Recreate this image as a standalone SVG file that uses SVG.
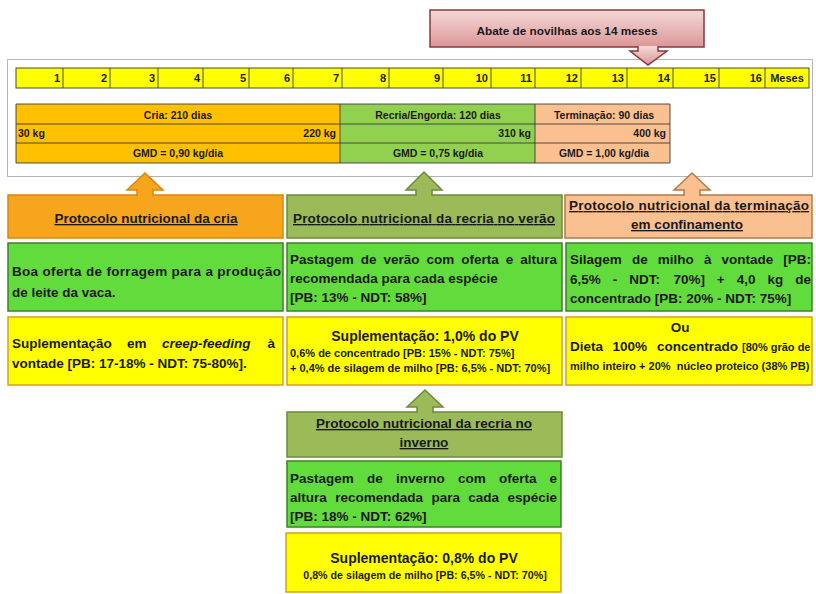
<svg xmlns="http://www.w3.org/2000/svg" width="816" height="594" viewBox="0 0 816 594">
<defs>
<linearGradient id="gPink" x1="0" y1="0" x2="0" y2="1">
<stop offset="0" stop-color="#F5D9D8"/>
<stop offset="1" stop-color="#DA9796"/>
</linearGradient>
<style>
text{font-family:"Liberation Sans",Arial,sans-serif;font-weight:bold;fill:#1a1a1a}
.tl{font-size:11px;text-anchor:end}
.tb{font-size:10.5px}
.c{text-anchor:middle}
.e{text-anchor:end}
.b{font-size:13.5px}
.h{font-size:14px}
.s{font-size:11px}
.u{text-decoration:underline}
.i{font-style:italic}
.grid{stroke:#3d3d3d;stroke-width:0.9;fill:none}
.green{fill:#62DC3C;stroke:#3F7F2A;stroke-width:1.5}
.yellow{fill:#FFFF00;stroke:#D2A21A;stroke-width:1.5}
.pCria{fill:#F8A51E;stroke:#D98708;stroke-width:1.5}
.pRecria{fill:#9BBB59;stroke:#6E8A3A;stroke-width:1.5}
.pTerm{fill:#FAC090;stroke:#B47A48;stroke-width:1.5}
.pAbate{fill:url(#gPink);stroke:#8C3836;stroke-width:1.5}
</style>
</defs>
<rect width="816" height="594" fill="#ffffff"/>

<!-- frame around the timeline and the phase table -->
<rect x="7.5" y="59.5" width="805" height="117" fill="none" stroke="#b4b4b4" stroke-width="1"/>

<!-- month timeline -->
<g id="timeline">
<rect x="16" y="68" width="793" height="20" fill="#FFFF00" stroke="#4a4a30" stroke-width="1"/>
<path class="grid" d="M63,68V88M110,68V88M158,68V88M203,68V88M249,68V88M293,68V88M342,68V88M389,68V88M443,68V88M491,68V88M535,68V88M581,68V88M627,68V88M673,68V88M719,68V88M765,68V88"/>
<text class="tl" x="60" y="82">1</text>
<text class="tl" x="107" y="82">2</text>
<text class="tl" x="155" y="82">3</text>
<text class="tl" x="200" y="82">4</text>
<text class="tl" x="246" y="82">5</text>
<text class="tl" x="290" y="82">6</text>
<text class="tl" x="339" y="82">7</text>
<text class="tl" x="386" y="82">8</text>
<text class="tl" x="440" y="82">9</text>
<text class="tl" x="488" y="82">10</text>
<text class="tl" x="532" y="82">11</text>
<text class="tl" x="578" y="82">12</text>
<text class="tl" x="624" y="82">13</text>
<text class="tl" x="670" y="82">14</text>
<text class="tl" x="716" y="82">15</text>
<text class="tl" x="762" y="82">16</text>
<text class="tl c" x="787" y="82">Meses</text>
</g>

<!-- phase table -->
<g id="phase-cria">
<rect x="16" y="104" width="324" height="59" fill="#FFC000"/>
<text class="tb c" x="178" y="119">Cria: 210 dias</text>
<text class="tb" x="18" y="137">30 kg</text>
<text class="tb e" x="336" y="137">220 kg</text>
<text class="tb c" x="178" y="157">GMD = 0,90 kg/dia</text>
</g>
<g id="phase-recria">
<rect x="340" y="104" width="195" height="59" fill="#92D050"/>
<text class="tb c" x="438" y="119">Recria/Engorda: 120 dias</text>
<text class="tb e" x="531" y="137">310 kg</text>
<text class="tb c" x="438" y="157">GMD = 0,75 kg/dia</text>
</g>
<g id="phase-terminacao">
<rect x="535" y="104" width="135" height="59" fill="#FAC090"/>
<text class="tb c" x="604" y="119">Terminação: 90 dias</text>
<text class="tb e" x="666" y="137">400 kg</text>
<text class="tb c" x="604" y="157">GMD = 1,00 kg/dia</text>
</g>
<path class="grid" d="M16,104H670V163H16ZM16,124H670M16,143H670M340,104V163M535,104V163"/>

<!-- slaughter note -->
<g id="abate">
<rect class="pAbate" x="430" y="10" width="274" height="37"/>
<text x="567" y="35" class="c" style="font-size:11.8px">Abate de novilhas aos 14 meses</text>
</g>

<!-- protocol headers -->
<g id="protocolo-cria">
<rect class="pCria" x="8" y="195" width="275" height="43"/>
<text class="b c u" x="146" y="223">Protocolo nutricional da cria</text>
</g>
<g id="protocolo-recria-verao">
<rect class="pRecria" x="287" y="195" width="275" height="43"/>
<text class="b c u" x="424" y="223" textLength="262">Protocolo nutricional da recria no verão</text>
</g>
<g id="protocolo-terminacao">
<rect class="pTerm" x="565" y="195" width="247" height="43"/>
<text class="b c u" x="689" y="210" textLength="240">Protocolo nutricional da terminação</text>
<text class="b c u" x="687" y="229">em confinamento</text>
</g>

<!-- pasture / forage row -->
<g id="forragem-cria">
<rect class="green" x="8" y="243" width="275" height="68"/>
<text class="b" x="12" y="276" textLength="269">Boa oferta de forragem para a produção</text>
<text class="b" x="12" y="297">de leite da vaca.</text>
</g>
<g id="pastagem-verao">
<rect class="green" x="287" y="243" width="275" height="68"/>
<text class="b" y="264"><tspan x="290">Pastagem</tspan><tspan x="360.8">de</tspan><tspan x="383.6">verão</tspan><tspan x="426.5">com</tspan><tspan x="461.3">oferta</tspan><tspan x="505.8">e</tspan><tspan x="520.2">altura</tspan></text>
<text class="b" x="290" y="283">recomendada para cada espécie</text>
<text class="b" x="290" y="302">[PB: 13% - NDT: 58%]</text>
</g>
<g id="silagem-terminacao">
<rect class="green" x="566" y="243" width="246" height="68"/>
<text class="b" y="264"><tspan x="570">Silagem</tspan><tspan x="631.9">de</tspan><tspan x="657.8">milho</tspan><tspan x="703.9">à</tspan><tspan x="721.5">vontade</tspan><tspan x="783.3">[PB:</tspan></text>
<text class="b" y="284"><tspan x="570">6,5%</tspan><tspan x="612.8">-</tspan><tspan x="629.2">NDT:</tspan><tspan x="673.4">70%]</tspan><tspan x="716.8">+</tspan><tspan x="736.7">4,0</tspan><tspan x="767.4">kg</tspan><tspan x="795.2">de</tspan></text>
<text class="b" x="570" y="303">concentrado [PB: 20% - NDT: 75%]</text>
</g>

<!-- supplementation row -->
<g id="creep-feeding">
<rect class="yellow" x="8" y="317" width="275" height="68"/>
<text class="b" y="348"><tspan x="12">Suplementação</tspan><tspan x="127">em</tspan><tspan x="162" class="i">creep-feeding</tspan><tspan x="267.5">à</tspan></text>
<text class="b" x="12" y="368">vontade [PB: 17-18% - NDT: 75-80%].</text>
</g>
<g id="suplementacao-verao">
<rect class="yellow" x="287" y="317" width="275" height="68"/>
<text class="h c" x="425" y="341">Suplementação: 1,0% do PV</text>
<text class="s" x="290" y="357">0,6% de concentrado [PB: 15% - NDT: 75%]</text>
<text class="s" x="290" y="372">+ 0,4% de silagem de milho [PB: 6,5% - NDT: 70%]</text>
</g>
<g id="dieta-terminacao">
<rect class="yellow" x="566" y="317" width="246" height="68"/>
<text class="b c" x="680" y="332">Ou</text>
<text class="b" y="351"><tspan x="570">Dieta</tspan><tspan x="612.5">100%</tspan><tspan x="657">concentrado</tspan></text>
<text class="s" x="742" y="351">[80% grão de</text>
<text class="s" x="570" y="370" style="white-space:pre">milho inteiro + 20%  núcleo proteico (38% PB)</text>
</g>

<!-- winter rearing column -->
<g id="protocolo-recria-inverno">
<rect class="pRecria" x="287" y="412" width="275" height="45"/>
<text class="b c u" x="424" y="428">Protocolo nutricional da recria no</text>
<text class="b c u" x="424" y="447">inverno</text>
</g>
<g id="pastagem-inverno">
<rect class="green" x="287" y="461" width="274" height="66"/>
<text class="b" y="483"><tspan x="290">Pastagem</tspan><tspan x="367">de</tspan><tspan x="396">inverno</tspan><tspan x="458">com</tspan><tspan x="498.9">oferta</tspan><tspan x="549.6">e</tspan></text>
<text class="b" y="502"><tspan x="290">altura</tspan><tspan x="335.2">recomendada</tspan><tspan x="431.4">para</tspan><tspan x="468.3">cada</tspan><tspan x="507.5">espécie</tspan></text>
<text class="b" x="290" y="521">[PB: 18% - NDT: 62%]</text>
</g>
<g id="suplementacao-inverno">
<rect class="yellow" x="286" y="533" width="275" height="59"/>
<text class="h c" x="424" y="563">Suplementação: 0,8% do PV</text>
<text class="c" x="425" y="579" style="font-size:10.7px">0,8% de silagem de milho [PB: 6,5% - NDT: 70%]</text>
</g>

<!-- block arrows joining each header to the timeline -->
<g id="connectors">
<path class="pAbate" d="M638,46 V51 H630 L648,65 L667,51 H658 V46"/>
<path class="pCria" d="M137,196 V190 H127 L145,173 L163,190 H153 V196"/>
<path class="pRecria" d="M416,196 V190 H406 L424,172 L442,190 H432 V196"/>
<path class="pTerm" d="M684,196 V190 H674 L692,173 L710,190 H700 V196"/>
<path class="pRecria" d="M417,413 V407 H407 L425,390 L443,407 H433 V413"/>
</g>
</svg>
